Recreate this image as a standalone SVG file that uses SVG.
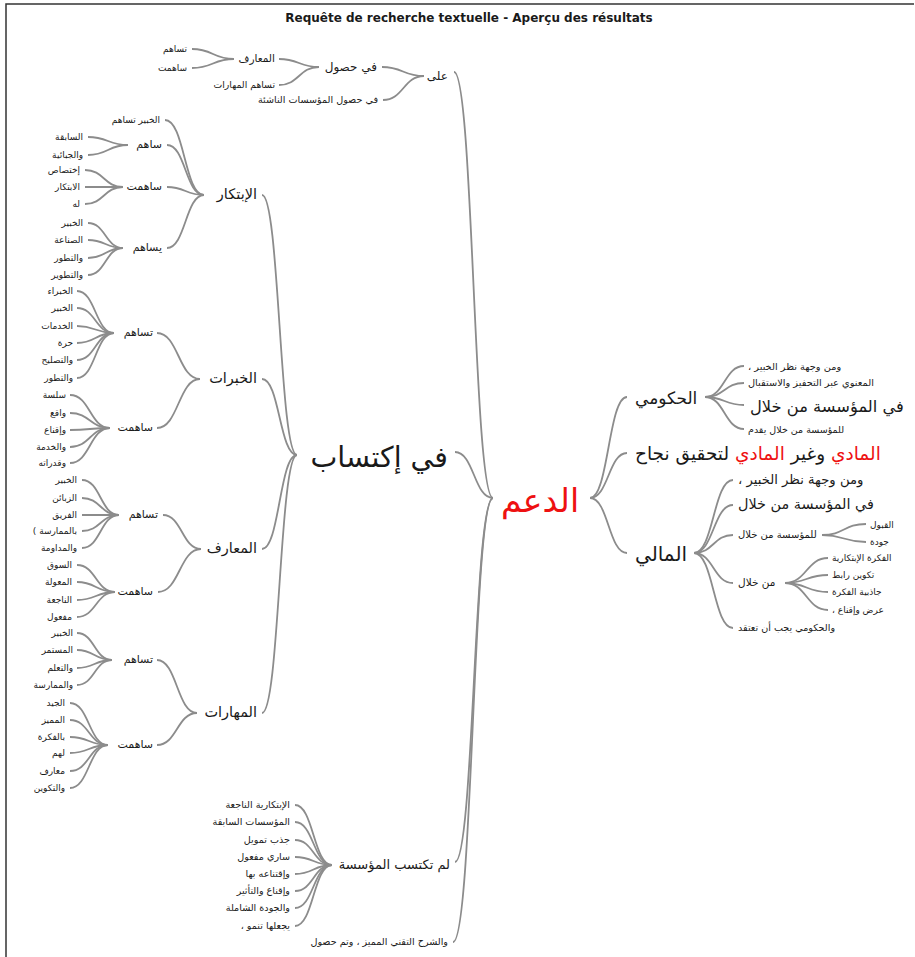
<svg xmlns="http://www.w3.org/2000/svg" width="915" height="957" viewBox="0 0 915 957">
<style>
  .c { fill: none; stroke: #8c8c8c; stroke-width: 1.8; }
  text { font-family: "DejaVu Sans", sans-serif; fill: #1a1a1a; }
  .l { text-anchor: end; }
  .r { text-anchor: start; }
  .s9 { font-size: 9px; }
  .s95 { font-size: 9.6px; }
  .s11 { font-size: 11px; }
  .s14 { font-size: 14.5px; }
  .red { fill: #ee1111; }
</style>
<rect width="915" height="957" fill="#ffffff"/>
<path d="M6 957V4H914" fill="none" stroke="#333" stroke-width="1.5"/>
<text x="469" y="22" text-anchor="middle" style="font-family:'DejaVu Sans',sans-serif;font-weight:bold;font-size:12px">Requête de recherche textuelle - Aperçu des résultats</text>

<g id="connectors">
  <path class="c" d="M493 498C473.5 498 473.5 72 454 72"/>
  <path class="c" d="M493 498C474 498 474 452 455 452"/>
  <path class="c" d="M493 498C474 498 474 862 455 862"/>
  <path class="c" d="M493 498C473 498 473 942 453 942"/>
  <path class="c" d="M424 76C403 76 403 67 382 67"/>
  <path class="c" d="M424 76C403.5 76 403.5 100 383 100"/>
  <path class="c" d="M319 67C299 67 299 59 279 59"/>
  <path class="c" d="M319 67C299 67 299 85 279 85"/>
  <path class="c" d="M234 59C213 59 213 49 192 49"/>
  <path class="c" d="M234 59C213 59 213 68 192 68"/>
  <path class="c" d="M297 455C279.5 455 279.5 195 262 195"/>
  <path class="c" d="M297 455C279.5 455 279.5 379 262 379"/>
  <path class="c" d="M297 455C279.5 455 279.5 549 262 549"/>
  <path class="c" d="M297 455C279.5 455 279.5 713 262 713"/>
  <path class="c" d="M204 195C184.5 195 184.5 120 165 120"/>
  <path class="c" d="M204 195C185.5 195 185.5 145 167 145"/>
  <path class="c" d="M204 195C185.5 195 185.5 187 167 187"/>
  <path class="c" d="M204 195C185.5 195 185.5 248 167 248"/>
  <path class="c" d="M128 145C108 145 108 137 88 137"/>
  <path class="c" d="M128 145C108 145 108 155 88 155"/>
  <path class="c" d="M123 187C104 187 104 170 85 170"/>
  <path class="c" d="M123 187C104 187 104 187 85 187"/>
  <path class="c" d="M123 187C104 187 104 204 85 204"/>
  <path class="c" d="M123 248C105.5 248 105.5 223 88 223"/>
  <path class="c" d="M123 248C105.5 248 105.5 240 88 240"/>
  <path class="c" d="M123 248C105.5 248 105.5 258 88 258"/>
  <path class="c" d="M123 248C105.5 248 105.5 275 88 275"/>
  <path class="c" d="M200 379C178.5 379 178.5 333 157 333"/>
  <path class="c" d="M200 379C178.5 379 178.5 428 157 428"/>
  <path class="c" d="M114 333C95.5 333 95.5 291 77 291"/>
  <path class="c" d="M114 333C95.5 333 95.5 308 77 308"/>
  <path class="c" d="M114 333C95.5 333 95.5 326 77 326"/>
  <path class="c" d="M114 333C95.5 333 95.5 343 77 343"/>
  <path class="c" d="M114 333C95.5 333 95.5 360 77 360"/>
  <path class="c" d="M114 333C95.5 333 95.5 378 77 378"/>
  <path class="c" d="M110 428C90 428 90 395 70 395"/>
  <path class="c" d="M110 428C90 428 90 413 70 413"/>
  <path class="c" d="M110 428C90 428 90 430 70 430"/>
  <path class="c" d="M110 428C90 428 90 447 70 447"/>
  <path class="c" d="M110 428C90 428 90 463 70 463"/>
  <path class="c" d="M201 549C182 549 182 515 163 515"/>
  <path class="c" d="M201 549C179.5 549 179.5 592 158 592"/>
  <path class="c" d="M119 515C100.5 515 100.5 480 82 480"/>
  <path class="c" d="M119 515C100.5 515 100.5 498 82 498"/>
  <path class="c" d="M119 515C100.5 515 100.5 515 82 515"/>
  <path class="c" d="M119 515C100.5 515 100.5 531 82 531"/>
  <path class="c" d="M119 515C100.5 515 100.5 548 82 548"/>
  <path class="c" d="M115 592C96 592 96 565 77 565"/>
  <path class="c" d="M115 592C96 592 96 582 77 582"/>
  <path class="c" d="M115 592C96 592 96 600 77 600"/>
  <path class="c" d="M115 592C96 592 96 617 77 617"/>
  <path class="c" d="M197 713C177 713 177 660 157 660"/>
  <path class="c" d="M197 713C177 713 177 745 157 745"/>
  <path class="c" d="M112 660C94.5 660 94.5 633 77 633"/>
  <path class="c" d="M112 660C94.5 660 94.5 650 77 650"/>
  <path class="c" d="M112 660C94.5 660 94.5 668 77 668"/>
  <path class="c" d="M112 660C94.5 660 94.5 685 77 685"/>
  <path class="c" d="M108 745C89 745 89 703 70 703"/>
  <path class="c" d="M108 745C89 745 89 720 70 720"/>
  <path class="c" d="M108 745C89 745 89 737 70 737"/>
  <path class="c" d="M108 745C89 745 89 753 70 753"/>
  <path class="c" d="M108 745C89 745 89 771 70 771"/>
  <path class="c" d="M108 745C89 745 89 788 70 788"/>
  <path class="c" d="M332 865C313.5 865 313.5 805 295 805"/>
  <path class="c" d="M332 865C313.5 865 313.5 822 295 822"/>
  <path class="c" d="M332 865C313.5 865 313.5 840 295 840"/>
  <path class="c" d="M332 865C313.5 865 313.5 857 295 857"/>
  <path class="c" d="M332 865C313.5 865 313.5 874 295 874"/>
  <path class="c" d="M332 865C313.5 865 313.5 891 295 891"/>
  <path class="c" d="M332 865C313.5 865 313.5 908 295 908"/>
  <path class="c" d="M332 865C313.5 865 313.5 926 295 926"/>
  <path class="c" d="M590 498C608.5 498 608.5 397 627 397"/>
  <path class="c" d="M590 498C608.5 498 608.5 453 627 453"/>
  <path class="c" d="M590 498C608.5 498 608.5 553 627 553"/>
  <path class="c" d="M705 397C724.5 397 724.5 366 744 366"/>
  <path class="c" d="M705 397C724.5 397 724.5 383 744 383"/>
  <path class="c" d="M705 397C724.5 397 724.5 405 744 405"/>
  <path class="c" d="M705 397C724.5 397 724.5 429 744 429"/>
  <path class="c" d="M694 553C713.5 553 713.5 480 733 480"/>
  <path class="c" d="M694 553C713.5 553 713.5 505 733 505"/>
  <path class="c" d="M694 553C713.5 553 713.5 535 733 535"/>
  <path class="c" d="M694 553C713.5 553 713.5 583 733 583"/>
  <path class="c" d="M694 553C713.5 553 713.5 628 733 628"/>
  <path class="c" d="M822 535C844 535 844 524 866 524"/>
  <path class="c" d="M822 535C844 535 844 542 866 542"/>
  <path class="c" d="M785 583C806.5 583 806.5 558 828 558"/>
  <path class="c" d="M785 583C806.5 583 806.5 575 828 575"/>
  <path class="c" d="M785 583C806.5 583 806.5 592 828 592"/>
  <path class="c" d="M785 583C806.5 583 806.5 610 828 610"/>
</g>

<!-- root -->
<g id="root"><text x="540" y="512" text-anchor="middle" class="red" style="font-size:33px">الدعم</text></g>

<!-- upper branch -->
<g id="ala"><text class="l" x="448" y="79.5" style="font-size:12px">على</text></g>
<g id="ala-husul"><text class="l" x="377" y="70.5" style="font-size:12px">في حصول</text></g>
<g id="ala-husul-muassasat"><text class="l s95" x="378" y="102.7">في حصول المؤسسات الناشئة</text></g>
<g id="ala-maarif"><text class="l" x="275" y="62" style="font-size:10.5px">المعارف</text></g>
<g id="ala-tusahim-maharat"><text class="l" x="275" y="87.6" style="font-size:9.3px">تساهم المهارات</text></g>
<g id="ala-tusahim"><text class="l s9" x="187" y="51.5">تساهم</text></g>
<g id="ala-sahamat"><text class="l s9" x="187" y="70.5">ساهمت</text></g>

<!-- main left branch -->
<g id="iktisab"><text class="l" x="448" y="467" style="font-size:28.5px">في إكتساب</text></g>

<g id="ibtikar"><text class="l s14" x="257" y="199">الإبتكار</text></g>
<g id="ibtikar-khabir"><text class="l s9" x="160" y="122.5">الخبير تساهم</text></g>
<g id="ibtikar-saham"><text class="l s11" x="162" y="148">ساهم</text></g>
<g id="ibtikar-saham-1"><text class="l s9" x="83" y="139.5">السابقة</text></g>
<g id="ibtikar-saham-2"><text class="l s9" x="83" y="157.5">والجبائية</text></g>
<g id="ibtikar-sahamat"><text class="l s11" x="162" y="190">ساهمت</text></g>
<g id="ibtikar-sahamat-1"><text class="l s9" x="80" y="172.5">إختصاص</text></g>
<g id="ibtikar-sahamat-2"><text class="l s9" x="80" y="189.5">الابتكار</text></g>
<g id="ibtikar-sahamat-3"><text class="l s9" x="80" y="206.5">له</text></g>
<g id="ibtikar-yusahim"><text class="l s11" x="162" y="251">يساهم</text></g>
<g id="ibtikar-yusahim-1"><text class="l s9" x="83" y="225.5">الخبير</text></g>
<g id="ibtikar-yusahim-2"><text class="l s9" x="83" y="242.5">الصناعة</text></g>
<g id="ibtikar-yusahim-3"><text class="l s9" x="83" y="260.5">والتطور</text></g>
<g id="ibtikar-yusahim-4"><text class="l s9" x="83" y="277.5">والتطوير</text></g>

<g id="khibrat"><text class="l s14" x="257" y="383">الخبرات</text></g>
<g id="khibrat-tusahim"><text class="l s11" x="153" y="336">تساهم</text></g>
<g id="khibrat-tusahim-1"><text class="l s9" x="73" y="293.5">الخبراء</text></g>
<g id="khibrat-tusahim-2"><text class="l s9" x="73" y="310.5">الخبير</text></g>
<g id="khibrat-tusahim-3"><text class="l s9" x="73" y="328.5">الخدمات</text></g>
<g id="khibrat-tusahim-4"><text class="l s9" x="73" y="345.5">حرة</text></g>
<g id="khibrat-tusahim-5"><text class="l s9" x="73" y="362.5">والتصليح</text></g>
<g id="khibrat-tusahim-6"><text class="l s9" x="73" y="380.5">والتطور</text></g>
<g id="khibrat-sahamat"><text class="l s11" x="153" y="431">ساهمت</text></g>
<g id="khibrat-sahamat-1"><text class="l s9" x="66" y="397.5">سلسة</text></g>
<g id="khibrat-sahamat-2"><text class="l s9" x="66" y="415.5">واقع</text></g>
<g id="khibrat-sahamat-3"><text class="l s9" x="66" y="432.5">وإقناع</text></g>
<g id="khibrat-sahamat-4"><text class="l s9" x="66" y="449.5">والخدمة</text></g>
<g id="khibrat-sahamat-5"><text class="l s9" x="66" y="465.5">وقدراته</text></g>

<g id="maarif"><text class="l s14" x="257" y="553">المعارف</text></g>
<g id="maarif-tusahim"><text class="l s11" x="158" y="518">تساهم</text></g>
<g id="maarif-tusahim-1"><text class="l s9" x="77" y="482.5">الخبير</text></g>
<g id="maarif-tusahim-2"><text class="l s9" x="77" y="500.5">الزبائن</text></g>
<g id="maarif-tusahim-3"><text class="l s9" x="77" y="517.5">الفريق</text></g>
<g id="maarif-tusahim-4"><text class="l s9" x="77" y="533.5">بالممارسة )&#x200F;</text></g>
<g id="maarif-tusahim-5"><text class="l s9" x="77" y="550.5">والمداومة</text></g>
<g id="maarif-sahamat"><text class="l s11" x="153" y="595">ساهمت</text></g>
<g id="maarif-sahamat-1"><text class="l s9" x="72" y="567.5">السوق</text></g>
<g id="maarif-sahamat-2"><text class="l s9" x="72" y="584.5">المعولة</text></g>
<g id="maarif-sahamat-3"><text class="l s9" x="72" y="602.5">الناجعة</text></g>
<g id="maarif-sahamat-4"><text class="l s9" x="72" y="619.5">مفعول</text></g>

<g id="maharat"><text class="l s14" x="257" y="717">المهارات</text></g>
<g id="maharat-tusahim"><text class="l s11" x="153" y="663">تساهم</text></g>
<g id="maharat-tusahim-1"><text class="l s9" x="73" y="635.5">الخبير</text></g>
<g id="maharat-tusahim-2"><text class="l s9" x="73" y="652.5">المستمر</text></g>
<g id="maharat-tusahim-3"><text class="l s9" x="73" y="670.5">والتعلم</text></g>
<g id="maharat-tusahim-4"><text class="l s9" x="73" y="687.5">والممارسة</text></g>
<g id="maharat-sahamat"><text class="l s11" x="153" y="748">ساهمت</text></g>
<g id="maharat-sahamat-1"><text class="l s9" x="65" y="705.5">الجيد</text></g>
<g id="maharat-sahamat-2"><text class="l s9" x="65" y="722.5">المميز</text></g>
<g id="maharat-sahamat-3"><text class="l s9" x="65" y="739.5">بالفكرة</text></g>
<g id="maharat-sahamat-4"><text class="l s9" x="65" y="755.5">لهم</text></g>
<g id="maharat-sahamat-5"><text class="l s9" x="65" y="773.5">معارف</text></g>
<g id="maharat-sahamat-6"><text class="l s9" x="65" y="790.5">والتكوين</text></g>

<!-- lower branches -->
<g id="lam-taktasib"><text class="l" x="450" y="868.6" style="font-size:13px">لم تكتسب المؤسسة</text></g>
<g id="lam-1"><text class="l s95" x="290" y="807.7">الإبتكارية الناجعة</text></g>
<g id="lam-2"><text class="l s95" x="290" y="824.7">المؤسسات السابقة</text></g>
<g id="lam-3"><text class="l s95" x="290" y="842.7">جذب تمويل</text></g>
<g id="lam-4"><text class="l s95" x="290" y="859.7">ساري مفعول</text></g>
<g id="lam-5"><text class="l s95" x="290" y="876.7">وإقتناعه بها</text></g>
<g id="lam-6"><text class="l s95" x="290" y="893.7">وإقناع والتأثير</text></g>
<g id="lam-7"><text class="l s95" x="290" y="910.7">والجودة الشاملة</text></g>
<g id="lam-8"><text class="l s95" x="290" y="928.7">يجعلها تنمو ،&#x200F;</text></g>
<g id="sharh"><text class="l s95" x="448" y="944.7">والشرح التقني المميز ، وتم حصول</text></g>

<!-- right branches -->
<g id="hukumi"><text class="r" x="635" y="404" style="font-size:17px">الحكومي</text></g>
<g id="hukumi-1"><text class="r" x="748" y="369.8" style="font-size:9.8px">ومن وجهة نظر الخبير ،&#x200F;</text></g>
<g id="hukumi-2"><text class="r" x="748" y="385.8" style="font-size:9.8px">المعنوي عبر التحفيز والاستقبال</text></g>
<g id="hukumi-3"><text class="r" x="750" y="411.6" style="font-size:16.3px">في المؤسسة من خلال</text></g>
<g id="hukumi-4"><text class="r" x="748" y="432.8" style="font-size:9.5px">للمؤسسة من خلال يقدم</text></g>

<g id="maddi"><text class="r" x="635" y="460.2" style="font-size:18.5px"><tspan class="red">المادي</tspan> وغير <tspan class="red">المادي</tspan> لتحقيق نجاح</text></g>

<g id="mali"><text class="r" x="635" y="560.5" style="font-size:20px">المالي</text></g>
<g id="mali-1"><text class="r" x="738" y="483.6" style="font-size:13.2px">ومن وجهة نظر الخبير ،&#x200F;</text></g>
<g id="mali-2"><text class="r" x="738" y="509" style="font-size:14.4px">في المؤسسة من خلال</text></g>
<g id="mali-3"><text class="r" x="738" y="538" style="font-size:10px">للمؤسسة من خلال</text></g>
<g id="mali-3-1"><text class="r s9" x="870" y="527.5">القبول</text></g>
<g id="mali-3-2"><text class="r s9" x="870" y="544.5">جودة</text></g>
<g id="mali-4"><text class="r" x="738" y="586" style="font-size:10.5px">من خلال</text></g>
<g id="mali-4-1"><text class="r s9" x="832" y="560.5">الفكرة الإبتكارية</text></g>
<g id="mali-4-2"><text class="r s9" x="832" y="577.5">تكوين رابط</text></g>
<g id="mali-4-3"><text class="r s9" x="832" y="594.5">جاذبية الفكرة</text></g>
<g id="mali-4-4"><text class="r s9" x="832" y="612.5">عرض وإقناع ،&#x200F;</text></g>
<g id="mali-5"><text class="r" x="738" y="630.7" style="font-size:9.6px">والحكومي يجب أن تعتقد</text></g>
</svg>
